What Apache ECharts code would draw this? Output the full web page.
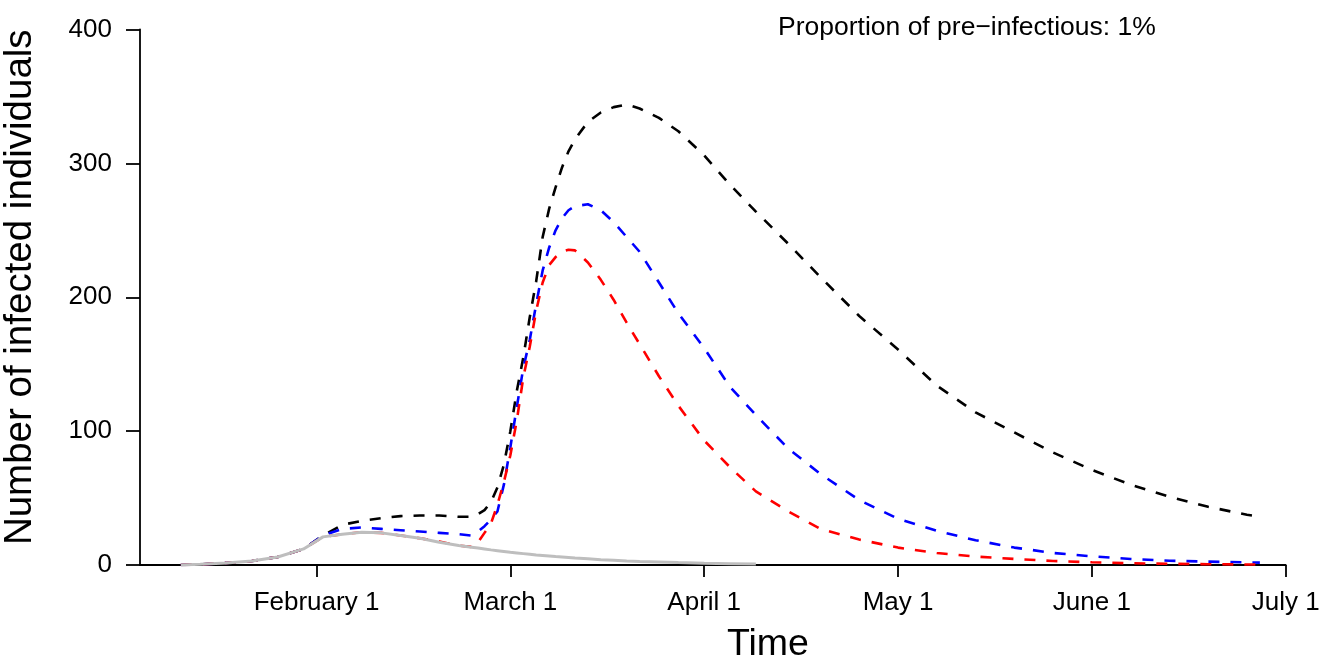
<!DOCTYPE html>
<html>
<head>
<meta charset="utf-8">
<script src="https://cdn.jsdelivr.net/npm/echarts@6/dist/echarts.min.js"></script>
<style>
  html, body { margin: 0; padding: 0; background: #fff; }
  #chart { width: 1324px; height: 661px; }
</style>
</head>
<body>
<div id="chart"></div>
<script>
// time in days, 30 days per month, Feb 1 = 30
const tickDays = [30, 60, 90, 120, 150, 180];
const tickLabels = ['February 1', 'March 1', 'April 1', 'May 1', 'June 1', 'July 1'];
const yTicks = [0, 100, 200, 300, 400];

const days = [9, 12, 16, 20, 24, 28, 31, 34, 37, 40, 43, 46, 49, 52,
  54, 55, 56, 57, 58, 59, 60, 61, 62, 63, 64, 65, 66, 67, 68, 69, 70,
  72, 74, 76, 78, 80, 83, 86, 90, 94, 98, 103, 108, 114, 120,
  126, 132, 138, 144, 150, 156, 162, 168, 174, 176];

const blackVals = [0, 0.5, 1.5, 3, 6, 12, 22, 30, 33, 35, 36.5, 37, 37, 36,
  36, 38, 41, 47, 58, 75, 100, 130, 155, 185, 212, 245, 266, 282, 297, 309, 318,
  331, 338, 342, 344, 341, 334, 324, 306, 284, 264, 240, 215, 186, 161,
  134, 114, 99, 84, 71, 60, 51, 43.5, 37.5, 36];

const blueVals = [0, 0.5, 1.5, 3, 6, 12, 22, 27, 28, 27, 26, 25, 24, 23,
  22, 25, 29, 34, 40, 60, 88, 118, 147, 168, 195, 220, 237, 250, 259, 265, 268,
  269.5, 265, 256, 245, 234, 211, 188, 162, 133, 112, 87, 68, 48.5, 34.5,
  25.5, 18.5, 13, 9, 6.5, 4.5, 3.2, 2.5, 2, 1.8];

const redVals = [0, 0.5, 1.5, 3, 6, 12, 21, 23, 24.5, 24, 22, 20, 17.5, 14.5,
  13.5, 17, 24, 31, 45, 62, 82, 108, 140, 163, 190, 211, 224, 230, 234, 235.5, 235,
  226, 213, 198, 181, 165, 141, 119, 93, 73, 55, 40, 27, 19, 13,
  9, 6.3, 4.5, 3, 2, 1.3, 0.9, 0.6, 0.4, 0.3];

const grayVals = [0, 0.5, 1.5, 3, 6, 12, 21, 23, 24.5, 24, 22, 20, 17, 14.5,
  13.3, 12.7, 12, 11.3, 10.7, 10.1, 9.5, 9, 8.5, 8, 7.5, 7.1, 6.7, 6.3, 6, 5.6, 5.2,
  4.6, 4, 3.5, 3, 2.6, 2.2, 1.8, 1.3, 1, 0.7];

const pairs = (vals) => vals.map((v, i) => [days[i], v]);

const myChart = echarts.init(document.getElementById('chart'));

const dashed = (color) => ({
  color: color,
  width: 2.6,
  type: [11, 11],
  cap: 'butt',
});

const option = {
  animation: false,
  textStyle: { fontFamily: 'Liberation Sans, Arial, sans-serif' },
  grid: {
    left: 140, right: 38.3, top: 29.5, bottom: 96,
    containLabel: false,
    outerBoundsMode: 'none',
  },
  xAxis: {
    type: 'value',
    min: 2.68,
    max: 180,
    name: 'Time',
    nameLocation: 'middle',
    nameGap: 61,
    // R centres the title on its plot region, a bit right of the axis middle
    nameTextStyle: { fontSize: 37.5, color: '#000', padding: [0, 0, 0, 110] },
    axisLine: { lineStyle: { color: '#000', width: 1.8 } },
    axisTick: { customValues: tickDays, length: 12, lineStyle: { color: '#000', width: 1.8 } },
    axisLabel: {
      customValues: tickDays,
      margin: 25,
      fontSize: 26,
      color: '#000',
      formatter: (v) => tickLabels[tickDays.indexOf(v)],
    },
    splitLine: { show: false },
  },
  yAxis: {
    type: 'value',
    min: 0,
    max: 400,
    interval: 100,
    name: 'Number of infected individuals',
    nameLocation: 'middle',
    nameRotate: 90,
    nameGap: 100,
    nameTextStyle: { fontSize: 38.5, color: '#000', padding: [0, 0, 0, 20] },
    axisLine: { show: true, lineStyle: { color: '#000', width: 1.8 } },
    axisTick: { show: true, length: 14, lineStyle: { color: '#000', width: 1.8 } },
    axisLabel: {
      customValues: yTicks,
      margin: 28,
      fontSize: 26,
      color: '#000',
    },
    splitLine: { show: false },
  },
  graphic: [
    {
      type: 'text',
      x: 778,
      y: 28,
      style: {
        text: 'Proportion of pre\u2212infectious: 1%',
        fontSize: 26.5,
        fontFamily: 'Liberation Sans, Arial, sans-serif',
        fill: '#000',
        verticalAlign: 'middle',
        align: 'left',
      },
    },
  ],
  series: [
    { type: 'line', data: pairs(blackVals), showSymbol: false, lineStyle: dashed('#000000'), z: 2 },
    { type: 'line', data: pairs(blueVals), showSymbol: false, lineStyle: dashed('#0000ff'), z: 3 },
    { type: 'line', data: pairs(redVals), showSymbol: false, lineStyle: dashed('#ff0000'), z: 4 },
    {
      type: 'line',
      data: pairs(grayVals),
      showSymbol: false,
      lineStyle: { color: '#bebebe', width: 3 },
      z: 5,
    },
  ],
};
myChart.setOption(option);
window.addEventListener('resize', myChart.resize);
</script>
</body>
</html>
